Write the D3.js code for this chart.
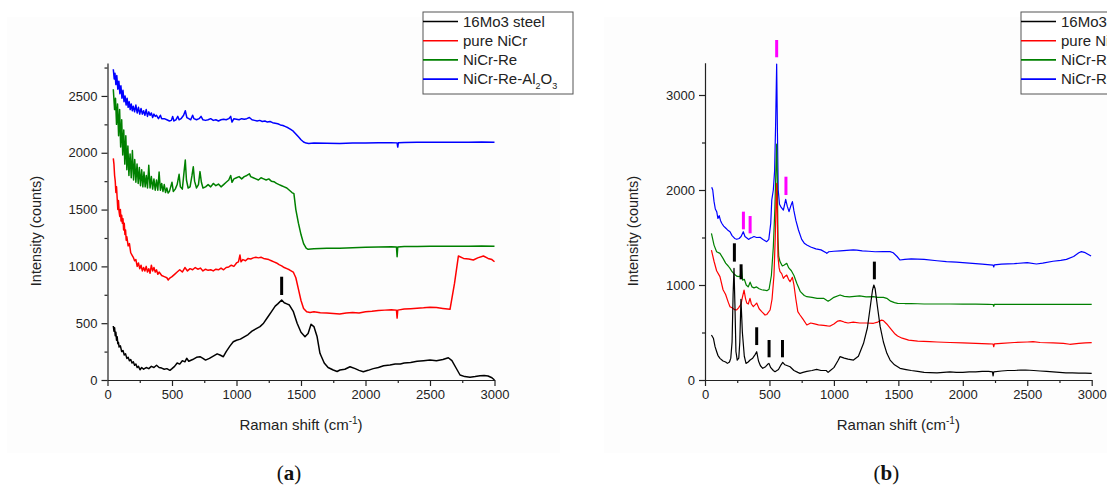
<!DOCTYPE html>
<html>
<head>
<meta charset="utf-8">
<script src="https://cdn.jsdelivr.net/npm/d3@7"></script>
<style>
  body { margin: 0; background: #fff; }
  svg { display: block; font-family: "Liberation Sans", Arial, sans-serif; }
  .axis path, .axis line { stroke: #222; stroke-width: 1.2; }
  .axis text { font-size: 13px; fill: #222; font-family: "Liberation Sans", Arial, sans-serif; }
</style>
</head>
<body>
<svg id="chart"></svg>
<script>
// ---- data: [Raman shift, counts] ----
const steelA = [[45,475],[50,430],[55,460],[60,390],[65,420],[70,350],[75,380],[80,320],[85,330],[90,290],[100,300],[110,250],[120,260],[130,220],[140,230],[150,190],[160,200],[170,170],[180,180],[190,150],[200,160],[210,130],[220,140],[230,110],[240,120],[252,90],[265,110],[280,95],[300,110],[320,100],[340,120],[360,110],[380,130],[400,110],[420,105],[440,95],[460,100],[484,85],[500,100],[520,120],[540,150],[560,140],[580,170],[600,160],[614,191],[630,165],[660,180],[690,200],[717,205],[740,190],[760,175],[790,190],[820,210],[850,230],[872,220],[898,205],[920,250],[950,300],[975,337],[1000,350],[1030,360],[1060,380],[1090,400],[1120,430],[1150,450],[1182,470],[1210,500],[1240,550],[1270,600],[1300,650],[1320,670],[1350,704],[1370,680],[1390,670],[1410,660],[1441,601],[1470,500],[1500,420],[1531,381],[1555,410],[1578,490],[1600,470],[1625,380],[1647,235],[1680,150],[1710,110],[1750,88],[1780,75],[1802,88],[1840,95],[1880,117],[1920,100],[1950,85],[1983,73],[2020,85],[2060,100],[2100,110],[2140,125],[2190,132],[2230,140],[2270,140],[2300,150],[2350,155],[2400,165],[2450,170],[2500,176],[2550,170],[2600,180],[2642,196],[2670,170],[2700,110],[2733,44],[2770,30],[2810,25],[2850,30],[2888,38],[2920,40],[2950,35],[2980,20],[3000,0]];

const nicrA = [[45,1951],[50,1900],[55,1800],[60,1750],[65,1650],[70,1700],[75,1600],[80,1500],[85,1580],[90,1480],[95,1440],[100,1500],[105,1400],[110,1450],[115,1380],[120,1420],[125,1320],[130,1380],[135,1280],[140,1320],[145,1230],[150,1260],[160,1180],[170,1200],[180,1120],[190,1100],[200,1080],[210,1050],[220,1060],[230,1000],[240,1030],[250,980],[260,1010],[270,960],[280,990],[290,960],[300,1000],[310,950],[320,980],[330,940],[340,1010],[350,960],[360,990],[370,950],[380,970],[390,930],[400,950],[420,920],[440,910],[460,900],[471,880],[480,895],[500,910],[520,930],[540,950],[560,970],[580,950],[600,990],[620,960],[640,980],[660,970],[680,990],[700,975],[720,985],[740,960],[760,975],[780,965],[800,970],[820,960],[840,975],[860,970],[880,985],[900,970],[920,990],[940,995],[960,1010],[980,1000],[1000,1030],[1015,1040],[1027,1100],[1035,1040],[1050,1060],[1070,1050],[1090,1070],[1110,1065],[1130,1075],[1150,1080],[1170,1075],[1190,1080],[1210,1070],[1230,1065],[1250,1060],[1270,1050],[1290,1040],[1310,1030],[1330,1015],[1350,1005],[1370,990],[1390,980],[1410,970],[1440,950],[1460,900],[1480,800],[1500,700],[1520,630],[1544,600],[1570,595],[1600,600],[1650,592],[1700,590],[1750,585],[1800,580],[1850,590],[1900,595],[1950,590],[2000,600],[2050,605],[2100,612],[2150,615],[2200,618],[2240,615],[2245,545],[2250,615],[2300,625],[2350,628],[2400,632],[2450,635],[2500,640],[2550,638],[2600,630],[2655,622],[2690,850],[2720,1091],[2760,1070],[2800,1065],[2836,1056],[2870,1075],[2914,1091],[2950,1070],[2980,1060],[3000,1041]];

const nicrReA = [[45,2559],[55,2380],[62,2480],[70,2250],[78,2430],[86,2150],[94,2380],[102,2050],[110,2290],[118,1980],[126,2200],[134,1900],[142,2150],[150,1850],[158,2060],[166,1800],[175,1990],[184,1780],[193,2020],[202,1760],[211,1940],[220,1740],[229,1900],[238,1730],[247,1870],[256,1710],[265,1850],[274,1700],[283,1830],[292,1700],[301,1800],[310,1690],[320,1890],[330,1690],[340,1790],[350,1680],[360,1770],[370,1670],[380,1760],[390,1670],[400,1830],[410,1670],[420,1730],[430,1660],[440,1720],[450,1650],[460,1690],[470,1645],[480,1660],[490,1700],[500,1740],[510,1660],[525,1680],[540,1720],[555,1810],[565,1700],[580,1680],[595,1850],[603,1936],[612,1760],[625,1690],[640,1700],[655,1800],[665,1877],[675,1750],[690,1690],[705,1720],[717,1834],[728,1740],[740,1690],[760,1700],[780,1720],[800,1700],[820,1730],[840,1710],[860,1725],[880,1700],[900,1720],[920,1740],[940,1760],[955,1800],[965,1740],[980,1770],[1000,1780],[1020,1790],[1040,1770],[1060,1790],[1080,1800],[1100,1815],[1110,1790],[1130,1780],[1150,1770],[1170,1760],[1190,1780],[1210,1770],[1230,1760],[1250,1770],[1270,1750],[1290,1745],[1310,1730],[1330,1720],[1350,1710],[1370,1700],[1390,1690],[1410,1670],[1430,1650],[1445,1640],[1460,1500],[1480,1380],[1500,1280],[1520,1200],[1540,1160],[1555,1150],[1600,1155],[1700,1160],[1800,1160],[1900,1165],[2000,1168],[2100,1170],[2200,1172],[2240,1170],[2245,1085],[2250,1170],[2300,1175],[2400,1176],[2500,1177],[2600,1178],[2700,1178],[2800,1178],[2900,1180],[3000,1178]];

const aluminaA = [[45,2735],[52,2650],[58,2700],[65,2600],[72,2680],[80,2560],[88,2630],[96,2520],[104,2590],[112,2480],[120,2550],[128,2450],[136,2500],[144,2420],[152,2480],[160,2400],[168,2450],[176,2380],[184,2430],[192,2370],[200,2410],[210,2360],[220,2420],[230,2350],[240,2400],[250,2340],[260,2390],[270,2340],[280,2370],[290,2330],[300,2380],[310,2320],[320,2360],[330,2330],[340,2350],[350,2310],[360,2340],[370,2320],[380,2330],[395,2300],[410,2330],[420,2300],[440,2300],[460,2290],[480,2280],[495,2285],[505,2320],[515,2280],[530,2290],[545,2320],[555,2290],[570,2300],[590,2330],[603,2370],[615,2310],[630,2300],[645,2290],[660,2330],[670,2300],[690,2290],[710,2300],[725,2320],[740,2290],[760,2285],[780,2290],[800,2300],[820,2285],[840,2290],[860,2280],[880,2290],[900,2295],[920,2290],[940,2300],[955,2320],[965,2270],[980,2300],[1000,2295],[1020,2290],[1040,2300],[1060,2295],[1080,2300],[1100,2310],[1120,2290],[1140,2285],[1160,2280],[1180,2285],[1200,2275],[1220,2280],[1240,2270],[1260,2275],[1280,2265],[1300,2260],[1320,2255],[1340,2245],[1360,2240],[1380,2230],[1400,2220],[1420,2205],[1440,2190],[1460,2165],[1480,2140],[1500,2115],[1520,2095],[1540,2085],[1560,2082],[1600,2085],[1700,2083],[1800,2082],[1900,2086],[2000,2085],[2100,2088],[2200,2088],[2245,2087],[2250,2050],[2255,2088],[2300,2090],[2400,2092],[2500,2093],[2600,2093],[2700,2092],[2800,2093],[2900,2094],[3000,2092]];

const steelB = [[50,474],[65,440],[78,351],[90,300],[100,260],[116,228],[140,200],[160,190],[174,175],[190,190],[200,230],[210,400],[218,900],[225,1176],[232,800],[240,300],[250,210],[262,230],[270,400],[279,850],[290,500],[305,250],[318,175],[335,190],[350,210],[370,230],[390,270],[401,298],[415,200],[430,150],[448,123],[470,140],[486,165],[496,175],[510,130],[530,100],[543,88],[570,110],[590,160],[603,186],[620,160],[640,150],[660,140],[690,100],[720,80],[737,70],[760,80],[790,90],[830,100],[866,112],[900,100],[940,100],[955,80],[970,98],[1000,130],[1030,200],[1048,246],[1080,230],[1110,220],[1152,210],[1190,250],[1230,386],[1260,550],[1285,800],[1300,950],[1310,1000],[1320,960],[1340,750],[1359,561],[1384,400],[1411,281],[1436,210],[1470,160],[1513,123],[1560,110],[1600,100],[1650,90],[1700,80],[1746,77],[1800,75],[1850,80],[1900,85],[1950,80],[2000,80],[2050,85],[2100,85],[2150,90],[2200,90],[2230,85],[2235,42],[2240,85],[2300,95],[2350,100],[2400,100],[2450,105],[2487,105],[2550,100],[2600,95],[2650,90],[2700,85],[2750,80],[2800,75],[2850,75],[2900,72],[2950,72],[3000,70]];

const nicrB = [[50,1368],[70,1250],[90,1150],[116,1088],[140,950],[160,900],[180,820],[194,772],[210,760],[230,740],[246,737],[260,760],[280,800],[290,870],[303,947],[314,860],[324,810],[336,800],[349,860],[360,800],[375,772],[388,790],[401,810],[420,750],[440,720],[466,684],[480,690],[505,737],[520,850],[535,1100],[545,1500],[552,1900],[556,2070],[560,1800],[566,1300],[575,1180],[582,1140],[595,1120],[608,1070],[620,1090],[634,1105],[648,1060],[660,1035],[670,1060],[678,1081],[690,1000],[705,850],[720,720],[737,684],[760,640],[790,579],[820,600],[850,590],[880,580],[920,575],[950,570],[971,568],[1000,590],[1030,620],[1048,625],[1080,610],[1110,600],[1150,610],[1200,600],[1250,600],[1307,597],[1340,610],[1370,630],[1384,625],[1410,590],[1438,544],[1470,490],[1494,463],[1530,440],[1580,420],[1650,410],[1744,403],[1800,400],[1900,395],[2000,390],[2100,385],[2200,380],[2235,379],[2240,350],[2245,380],[2300,385],[2400,395],[2500,400],[2545,403],[2600,395],[2700,390],[2780,385],[2830,376],[2900,385],[2950,390],[3000,393]];

const nicrReB = [[50,1544],[70,1420],[90,1350],[116,1333],[140,1280],[160,1230],[180,1200],[194,1175],[210,1140],[230,1110],[250,1090],[272,1088],[283,1178],[292,1050],[305,1060],[320,1000],[335,980],[350,1030],[365,980],[380,970],[400,980],[420,960],[440,950],[458,947],[480,940],[497,955],[515,1100],[530,1400],[542,1800],[550,2200],[556,2484],[561,2100],[566,1500],[572,1300],[582,1246],[600,1200],[615,1210],[634,1228],[650,1180],[670,1150],[690,1100],[712,1018],[740,930],[770,890],[790,877],[830,870],[870,860],[920,860],[955,830],[971,842],[1000,870],[1048,895],[1080,880],[1120,875],[1160,880],[1200,885],[1250,875],[1307,877],[1340,870],[1384,870],[1410,860],[1440,830],[1470,815],[1494,807],[1550,805],[1600,805],[1700,800],[1800,800],[1900,800],[2000,798],[2100,798],[2200,797],[2235,795],[2240,775],[2245,797],[2300,797],[2400,797],[2500,797],[2600,797],[2700,797],[2800,797],[2900,797],[3000,797]];

const aluminaB = [[52,2028],[60,2000],[70,1880],[80,1800],[91,1772],[100,1700],[110,1730],[120,1680],[130,1650],[145,1620],[160,1600],[175,1580],[194,1561],[210,1520],[230,1490],[246,1481],[265,1490],[280,1510],[297,1561],[310,1510],[325,1495],[340,1480],[349,1491],[365,1500],[380,1510],[400,1500],[427,1502],[450,1480],[479,1456],[495,1480],[510,1650],[518,1895],[530,2000],[540,2200],[548,2700],[556,3326],[562,2600],[568,2000],[578,1850],[590,1820],[608,1789],[618,1850],[626,1902],[638,1830],[652,1772],[665,1830],[678,1877],[690,1780],[705,1680],[725,1579],[750,1480],[770,1440],[790,1421],[820,1400],[860,1380],[900,1370],[940,1340],[945,1333],[960,1350],[1000,1355],[1050,1360],[1100,1365],[1150,1370],[1178,1368],[1220,1360],[1270,1355],[1320,1350],[1380,1352],[1436,1351],[1460,1340],[1490,1300],[1513,1263],[1550,1270],[1600,1275],[1700,1270],[1800,1255],[1873,1246],[1950,1240],[2050,1230],[2150,1220],[2235,1210],[2240,1190],[2245,1212],[2300,1220],[2400,1225],[2500,1235],[2571,1221],[2620,1230],[2700,1250],[2760,1260],[2804,1270],[2860,1300],[2900,1340],[2920,1351],[2950,1340],[2995,1305]];

// peak marks: [shift, from, to]
const marksA = [[1350, 748, 909]];
const blackMarksB = [[228, 1246, 1439], [280, 1060, 1218], [401, 368, 555], [497, 239, 421], [601, 239, 421], [1314, 1060, 1246]];
const pinkMarksB = [[298, 1586, 1772], [350, 1544, 1726], [556, 3397, 3579], [628, 1947, 2140]];

const seriesColors = ['#000000', '#ff0000', '#008000', '#0000ff'];
const xTicks = [0, 500, 1000, 1500, 2000, 2500, 3000];
const xMinor = [250, 750, 1250, 1750, 2250, 2750];
const yTicksA = [0, 500, 1000, 1500, 2000, 2500];
const yMinorA = [250, 750, 1250, 1750, 2250, 2750];
const yTicksB = [0, 1000, 2000, 3000];
const yMinorB = [500, 1500, 2500];

const W = 1107, H = 486;
const svg = d3.select('#chart').attr('width', W).attr('height', H);
const fmt = d3.format('d');

function drawPanel(p) {
  const x = d3.scaleLinear().domain([0, 3000]).range(p.xRange);
  const y = d3.scaleLinear().domain([0, p.yMax]).range([380, p.yTop]);
  const g = svg.append('g');

  g.append('rect')
    .attr('x', p.bg[0]).attr('y', 17)
    .attr('width', p.bg[1] - p.bg[0]).attr('height', 436)
    .attr('fill', '#fdfdfd');

  // minor ticks first
  g.append('g')
    .attr('class', 'axis')
    .attr('transform', 'translate(0,380)')
    .call(d3.axisBottom(x).tickValues(xMinor).tickSize(3).tickFormat(''))
    .select('.domain').remove();
  g.append('g')
    .attr('class', 'axis')
    .attr('transform', 'translate(' + x(0) + ',0)')
    .call(d3.axisLeft(y).tickValues(p.yMinor).tickSize(3).tickFormat(''))
    .select('.domain').remove();

  g.append('g')
    .attr('class', 'axis')
    .attr('transform', 'translate(0,380)')
    .call(d3.axisBottom(x).tickValues(xTicks).tickFormat(fmt).tickSize(6).tickSizeOuter(0).tickPadding(4));
  g.append('g')
    .attr('class', 'axis')
    .attr('transform', 'translate(' + x(0) + ',0)')
    .call(d3.axisLeft(y).tickValues(p.yTicks).tickFormat(fmt).tickSize(6).tickSizeOuter(0).tickPadding(4));

  const line = d3.line()
    .x(function(d) { return x(d[0]); })
    .y(function(d) { return y(d[1]); });

  // blue drawn first so the narrower peaks show on top of it
  for (let i = p.series.length - 1; i >= 0; i--) {
    g.append('path')
      .datum(p.series[i])
      .attr('fill', 'none')
      .attr('stroke', seriesColors[i])
      .attr('stroke-width', p.lineWidth)
      .attr('stroke-linejoin', 'round')
      .attr('d', line);
  }

  p.marks.forEach(function(set) {
    g.selectAll(null)
      .data(set.data)
      .enter()
      .append('line')
      .attr('x1', function(d) { return x(d[0]); })
      .attr('x2', function(d) { return x(d[0]); })
      .attr('y1', function(d) { return y(d[1]); })
      .attr('y2', function(d) { return y(d[2]); })
      .attr('stroke', set.color)
      .attr('stroke-width', 3);
  });

  // axis titles
  const cx = (p.xRange[0] + p.xRange[1]) / 2;
  const xt = g.append('text')
    .attr('x', cx).attr('y', 430)
    .attr('text-anchor', 'middle')
    .attr('font-size', 15).attr('fill', '#222');
  xt.append('tspan').text('Raman shift (cm');
  xt.append('tspan').attr('dy', -6).attr('font-size', 10).text('-1');
  xt.append('tspan').attr('dy', 6).text(')');

  g.append('text')
    .attr('transform', 'translate(' + (x(0) - 67) + ',231) rotate(-90)')
    .attr('text-anchor', 'middle')
    .attr('font-size', 14.5).attr('fill', '#222')
    .text('Intensity (counts)');

  const lab = g.append('text')
    .attr('x', cx - 12).attr('y', 480)
    .attr('text-anchor', 'middle')
    .attr('font-family', '"Liberation Serif", "DejaVu Serif", serif')
    .attr('font-size', 21).attr('fill', '#111');
  lab.append('tspan').text('(');
  lab.append('tspan').attr('font-weight', 'bold').text(p.label);
  lab.append('tspan').text(')');

  // legend (the right panel's legend runs off the page, as in the original)
  const lg = g.append('g').attr('transform', 'translate(' + p.legendX + ',12)');
  lg.append('rect')
    .attr('width', 150).attr('height', 82)
    .attr('fill', '#fff').attr('stroke', '#555').attr('stroke-width', 1);
  const rows = [['16Mo3 steel'], ['pure NiCr'], ['NiCr-Re'], ['NiCr-Re-Al', '2', 'O', '3']];
  rows.forEach(function(r, i) {
    const ry = 9.5 + i * 19.2;
    lg.append('line')
      .attr('x1', 0).attr('x2', 35).attr('y1', ry).attr('y2', ry)
      .attr('stroke', seriesColors[i]).attr('stroke-width', 1.6);
    const t = lg.append('text')
      .attr('x', 40).attr('y', ry + 5.3)
      .attr('font-size', 15).attr('fill', '#222');
    t.append('tspan').text(r[0]);
    if (r.length > 1) {
      t.append('tspan').attr('dy', 5).attr('font-size', 9).text(r[1]);
      t.append('tspan').attr('dy', -5).text(r[2]);
      t.append('tspan').attr('dy', 5).attr('font-size', 9).text(r[3]);
    }
  });
}

drawPanel({
  xRange: [107.5, 494.5], yMax: 2790, yTop: 63,
  yTicks: yTicksA, yMinor: yMinorA, bg: [7, 560],
  series: [steelA, nicrA, nicrReA, aluminaA], lineWidth: 1.5,
  marks: [{ data: marksA, color: '#000' }],
  label: 'a', legendX: 423
});

drawPanel({
  xRange: [705, 1091.7], yMax: 3340, yTop: 62.7,
  yTicks: yTicksB, yMinor: yMinorB, bg: [604, 1107],
  series: [steelB, nicrB, nicrReB, aluminaB], lineWidth: 1.2,
  marks: [{ data: blackMarksB, color: '#000' }, { data: pinkMarksB, color: '#ff00ff' }],
  label: 'b', legendX: 1021
});
</script>
</body>
</html>
